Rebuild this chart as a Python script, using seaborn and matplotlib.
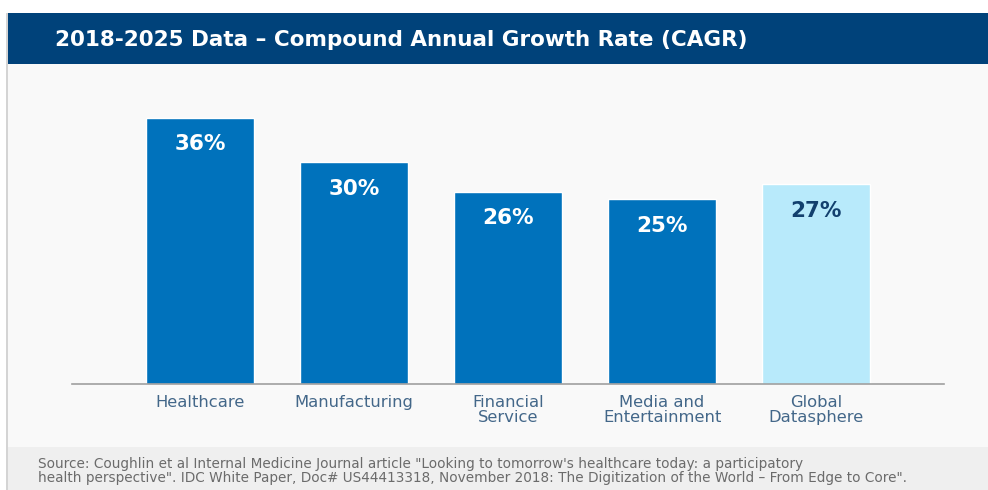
import matplotlib.pyplot as plt
import seaborn as sns
from matplotlib.patches import Rectangle

# chart data
categories = ["Healthcare", "Manufacturing", "Financial\nService",
              "Media and\nEntertainment", "Global\nDatasphere"]
cagr = [36, 30, 26, 25, 27]
bar_colors = ["#0072bc", "#0072bc", "#0072bc", "#0072bc", "#b8eafb"]
label_colors = ["white", "white", "white", "white", "#12406e"]

title = "2018-2025 Data \u2013 Compound Annual Growth Rate (CAGR)"
source = ("Source: Coughlin et al Internal Medicine Journal article \"Looking to tomorrow's healthcare today: a participatory\n"
          "health perspective\". IDC White Paper, Doc# US44413318, November 2018: The Digitization of the World \u2013 From Edge to Core\".")

W, H = 988, 490
sns.set_style("white")
plt.rcParams["font.family"] = ["DejaVu Sans"]

fig = plt.figure(figsize=(W / 100, H / 100), dpi=100)
fig.patch.set_facecolor("white")


def px_rect(x0, y0, x1, y1, color):
    # rectangle given in pixel coords measured from top-left, kept behind the axes
    fig.patches.append(Rectangle((x0 / W, 1 - y1 / H), (x1 - x0) / W, (y1 - y0) / H,
                                 transform=fig.transFigure, facecolor=color,
                                 edgecolor="none", zorder=-5))


px_rect(7, 64, W, 447, "#f9f9f9")
px_rect(7, 447, W, H, "#efefef")
px_rect(7, 13, W, 64, "#00427a")
px_rect(6, 13, 8, H, "#d4d4d4")

fig.text(55 / W, 1 - 40 / H, title, color="white", fontsize=15.5, fontweight="bold",
         va="center", ha="left")
fig.text(38 / W, 1 - 471 / H, source, color="#6b6b6b", fontsize=9.8, va="center",
         ha="left", linespacing=1.0)

ax = fig.add_axes([72 / W, 1 - 384 / H, 872 / W, 300 / H])
ax.set_facecolor("none")
sns.barplot(x=categories, y=cagr, hue=categories, palette=bar_colors, width=0.7,
            legend=False, saturation=1, ax=ax)
ax.set_xlim(-0.83, 4.83)
ax.set_ylim(0, 40.6)

for i, v in enumerate(cagr):
    ax.annotate(f"{v}%", xy=(i, v), xytext=(0, -19), textcoords="offset points",
                ha="center", va="center", fontsize=15.5, fontweight="bold",
                color=label_colors[i])

for s in ["top", "left", "right"]:
    ax.spines[s].set_visible(False)
ax.spines["bottom"].set_color("#a0a0a0")
ax.spines["bottom"].set_linewidth(1.2)
ax.set_yticks([])
ax.tick_params(axis="x", length=0, pad=8, labelsize=11.8, labelcolor="#436789")
for lbl in ax.get_xticklabels():
    lbl.set_linespacing(0.95)
ax.set_xlabel("")
ax.set_ylabel("")

fig.savefig("out.png", dpi=100)
